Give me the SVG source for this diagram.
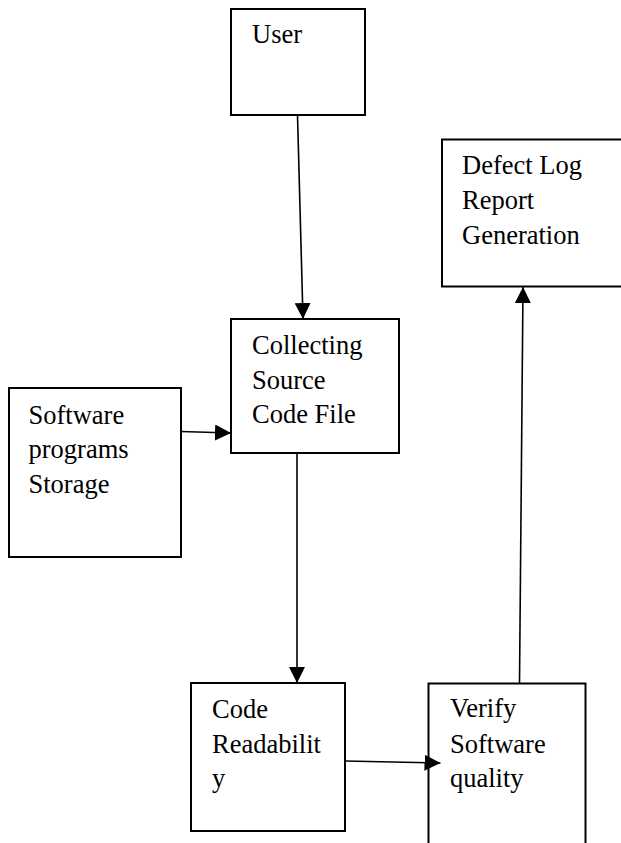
<svg xmlns="http://www.w3.org/2000/svg" width="621" height="843" viewBox="0 0 621 843">
<style>
.box{fill:#fff;stroke:#000;stroke-width:2}
.lbl{font-family:"Liberation Serif","Times New Roman",serif;font-size:26.5px;fill:#000}
.con{stroke:#000;stroke-width:1.6;fill:none;marker-end:url(#ah)}
</style>
<defs>
<marker id="ah" markerUnits="userSpaceOnUse" markerWidth="16" markerHeight="16" viewBox="0 0 15 15" refX="15" refY="7.5" orient="auto">
<path d="M0,0 L15,7.5 L0,15 z" fill="#000"/>
</marker>
</defs>
<rect width="621" height="843" fill="#fff"/>
<g id="user">
<rect class="box" x="231" y="9" width="134" height="106"/>
<text class="lbl" x="252" y="43">User</text>
</g>
<g id="defect">
<rect class="box" x="442" y="139.5" width="190" height="147"/>
<text class="lbl" x="462" y="173.5">Defect Log</text>
<text class="lbl" x="462" y="209">Report</text>
<text class="lbl" x="462" y="243.5">Generation</text>
</g>
<g id="collecting">
<rect class="box" x="231" y="319" width="168" height="134"/>
<text class="lbl" x="252" y="354">Collecting</text>
<text class="lbl" x="252" y="388.5">Source</text>
<text class="lbl" x="252" y="423">Code File</text>
</g>
<g id="storage">
<rect class="box" x="9" y="388" width="172" height="169"/>
<text class="lbl" x="28.5" y="424">Software</text>
<text class="lbl" x="28.5" y="458">programs</text>
<text class="lbl" x="28.5" y="492.5">Storage</text>
</g>
<g id="readability">
<rect class="box" x="191" y="683" width="154" height="148"/>
<text class="lbl" x="212" y="718">Code</text>
<text class="lbl" x="212" y="753">Readabilit</text>
<text class="lbl" x="212" y="787">y</text>
</g>
<g id="verify">
<rect class="box" x="428.5" y="683.5" width="157" height="180"/>
<text class="lbl" x="450" y="717">Verify</text>
<text class="lbl" x="450" y="752.5">Software</text>
<text class="lbl" x="450" y="787">quality</text>
</g>
<g id="connectors">
<line class="con" x1="297.5" y1="115" x2="303" y2="319"/>
<line class="con" x1="181" y1="431.5" x2="231" y2="433"/>
<line class="con" x1="297" y1="453" x2="297" y2="683"/>
<line class="con" x1="345" y1="761" x2="440.5" y2="763"/>
<line class="con" x1="519.5" y1="683.5" x2="523" y2="287"/>
</g>
</svg>
